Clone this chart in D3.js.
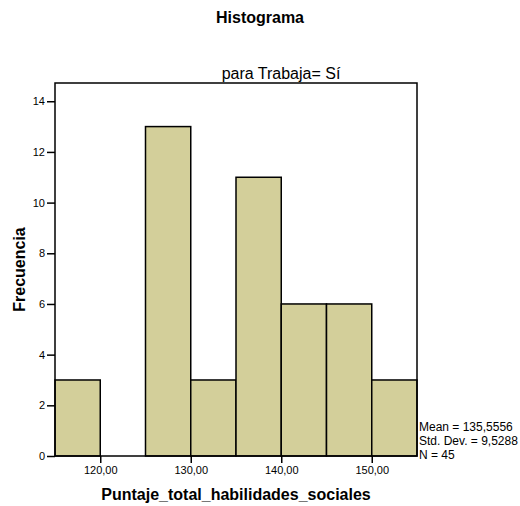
<!DOCTYPE html>
<html>
<head>
<meta charset="utf-8">
<script src="https://cdn.jsdelivr.net/npm/d3@7"></script>
<style>
body { margin: 0; background: #fff; }
text { font-family: "Liberation Sans", Arial, sans-serif; fill: #000; }
</style>
</head>
<body>
<div id="chart"></div>
<script>
// bins of width 5, from 115 to 155
var binStarts = [115, 120, 125, 130, 135, 140, 145, 150]
var counts = [3, 0, 13, 3, 11, 6, 6, 3]
var xTicks = [120, 130, 140, 150]
var yTicks = [0, 2, 4, 6, 8, 10, 12, 14]
var stats = ["Mean = 135,5556", "Std. Dev. = 9,5288", "N = 45"]

var svgWidth = 520
var svgHeight = 506
var margin = { top: 83, right: 103, bottom: 50, left: 55 }
var chartWidth = svgWidth - margin.left - margin.right
var chartHeight = svgHeight - margin.top - margin.bottom

var svg = d3.select("#chart")
    .append("svg")
    .attr("width", svgWidth)
    .attr("height", svgHeight)

var chartGroup = svg.append("g")
    .attr("transform", `translate(${margin.left},${margin.top})`)

var xScale = d3.scaleLinear().domain([115, 155]).range([0, chartWidth])
var yScale = d3.scaleLinear().domain([0, 14.72]).range([chartHeight, 0])

// bars
chartGroup.selectAll(".bar")
    .data(binStarts.map((b, i) => ({ x0: b, x1: b + 5, n: counts[i] })))
    .enter()
    .append("rect")
    .attr("class", "bar")
    .attr("x", d => xScale(d.x0))
    .attr("width", d => xScale(d.x1) - xScale(d.x0))
    .attr("y", d => yScale(d.n))
    .attr("height", d => yScale(0) - yScale(d.n))
    .attr("fill", "#d3cf9a")
    .attr("stroke", "#000")
    .attr("stroke-width", 1.5)

// frame
chartGroup.append("rect")
    .attr("width", chartWidth)
    .attr("height", chartHeight)
    .attr("fill", "none")
    .attr("stroke", "#000")
    .attr("stroke-width", 1.5)

var bottomAxis = d3.axisBottom(xScale)
    .tickValues(xTicks)
    .tickSize(7)
    .tickSizeOuter(0)
    .tickPadding(3)
    .tickFormat(d => d3.format(".2f")(d).replace(".", ","))
var leftAxis = d3.axisLeft(yScale)
    .tickValues(yTicks)
    .tickSize(8)
    .tickSizeOuter(0)
    .tickPadding(2)

var xAxis = chartGroup.append("g")
    .attr("transform", `translate(0,${chartHeight})`)
    .call(bottomAxis)
var yAxis = chartGroup.append("g")
    .call(leftAxis)

;[xAxis, yAxis].forEach(ax => {
    ax.select(".domain").remove()
    ax.selectAll("line").attr("stroke", "#000").attr("stroke-width", 1.5)
    ax.selectAll("text").attr("font-size", "11px").attr("fill", "#222")
        .style("font-family", "'Liberation Sans', Arial, sans-serif")
})

// titles
svg.append("text")
    .attr("x", 260)
    .attr("y", 23)
    .attr("text-anchor", "middle")
    .attr("font-size", "16px")
    .attr("font-weight", "bold")
    .text("Histograma")

svg.append("text")
    .attr("x", 281)
    .attr("y", 79)
    .attr("text-anchor", "middle")
    .attr("font-size", "16px")
    .text("para Trabaja= Sí")

svg.append("text")
    .attr("x", margin.left + chartWidth / 2)
    .attr("y", 500)
    .attr("text-anchor", "middle")
    .attr("font-size", "16px")
    .attr("font-weight", "bold")
    .text("Puntaje_total_habilidades_sociales")

svg.append("text")
    .attr("transform", `translate(25,${margin.top + chartHeight / 2}) rotate(-90)`)
    .attr("text-anchor", "middle")
    .attr("font-size", "16px")
    .attr("font-weight", "bold")
    .text("Frecuencia")

svg.selectAll(".stat")
    .data(stats)
    .enter()
    .append("text")
    .attr("class", "stat")
    .attr("x", margin.left + chartWidth + 2)
    .attr("y", (d, i) => 431 + i * 14)
    .attr("font-size", "12px")
    .text(d => d)
</script>
</body>
</html>
